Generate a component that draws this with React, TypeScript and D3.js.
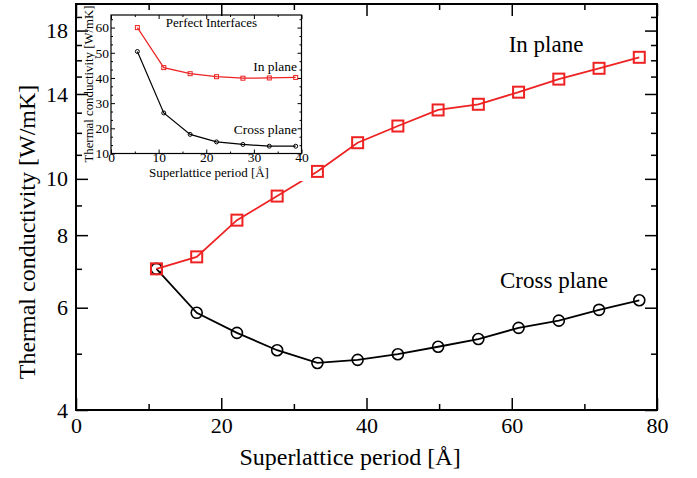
import { useEffect, useRef } from "react";
import * as d3 from "d3";

// superlattice periods (2..14 unit cells of 5.54 Å)
const periods = [11.08, 16.62, 22.16, 27.7, 33.24, 38.78, 44.32, 49.86, 55.4, 60.94, 66.48, 72.02, 77.56];
const inPlane = [7.0, 7.34, 8.49, 9.34, 10.3, 11.54, 12.33, 13.14, 13.44, 14.1, 14.85, 15.5, 16.19];
const crossPlane = [7.0, 5.88, 5.43, 5.07, 4.82, 4.88, 4.99, 5.14, 5.3, 5.54, 5.7, 5.95, 6.18];

// inset: perfect interfaces
const insetPeriods = [5.54, 11.08, 16.62, 22.16, 27.7, 33.24, 38.78];
const insetInPlane = [60, 44.1, 41.7, 40.5, 39.9, 40.0, 40.2];
const insetCrossPlane = [50.5, 26.1, 17.6, 14.6, 13.6, 12.9, 12.9];

const xMajor = [0, 20, 40, 60, 80];
const xMinor = [10, 30, 50, 70];
const yMajor = [4, 6, 8, 10, 14, 18];
const yMinor = [5, 7, 9, 11, 12, 13, 15, 16, 17, 19];

const insetXMajor = [0, 10, 20, 30, 40];
const insetXMinor = [5, 15, 25, 35];
const insetYMajor = [10, 20, 30, 40, 50, 60];
const insetYMinor = [13.33, 16.67, 23.33, 26.67, 33.33, 36.67, 43.33, 46.67, 53.33, 56.67, 63.33];

const RED = "#ee2222";
const FONT = "'Liberation Serif', 'Times New Roman', serif";

const App = () => {
    const ref = useRef<SVGSVGElement>(null);

    useEffect(() => {
        const svg = d3.select(ref.current);
        svg.selectAll("*").remove();

        const x = d3.scaleLinear().domain([0, 80]).range([76, 657]);
        const y = d3.scaleLog().domain([4, 20]).range([410, 4]);

        // ticks on all four sides, pointing inwards
        const addAxis = (axis: any, tx: number, ty: number, fontSize: number, sw: number) => {
            const g = svg.append("g")
                .attr("transform", `translate(${tx},${ty})`)
                .call(axis);
            g.select(".domain").remove();
            g.selectAll("line").attr("stroke", "#000").attr("stroke-width", sw);
            g.selectAll("text").attr("font-family", FONT).attr("font-size", fontSize).attr("fill", "#000");
            return g;
        };

        addAxis(d3.axisBottom(x).tickValues(xMajor).tickSize(-12).tickPadding(7).tickFormat(d3.format("d")), 0, 410, 22, 1.5);
        addAxis(d3.axisBottom(x).tickValues(xMinor).tickSize(-6).tickFormat(() => ""), 0, 410, 22, 1.5);
        addAxis(d3.axisTop(x).tickValues(xMajor).tickSize(-12).tickFormat(() => ""), 0, 4, 22, 1.5);
        addAxis(d3.axisTop(x).tickValues(xMinor).tickSize(-6).tickFormat(() => ""), 0, 4, 22, 1.5);
        addAxis(d3.axisLeft(y).tickValues(yMajor).tickSize(-12).tickPadding(8).tickFormat(d3.format("d")), 76, 0, 22, 1.5);
        addAxis(d3.axisLeft(y).tickValues(yMinor).tickSize(-6).tickFormat(() => ""), 76, 0, 22, 1.5);
        addAxis(d3.axisRight(y).tickValues(yMajor).tickSize(-12).tickFormat(() => ""), 657, 0, 22, 1.5);
        addAxis(d3.axisRight(y).tickValues(yMinor).tickSize(-6).tickFormat(() => ""), 657, 0, 22, 1.5);

        svg.append("rect")
            .attr("x", 76).attr("y", 4).attr("width", 581).attr("height", 406)
            .attr("fill", "none").attr("stroke", "#000").attr("stroke-width", 2);

        const line = d3.line<number>()
            .x((d, i) => x(periods[i]))
            .y(d => y(d));

        svg.append("path").datum(crossPlane).attr("d", line)
            .attr("fill", "none").attr("stroke", "#000").attr("stroke-width", 1.8);
        svg.append("path").datum(inPlane).attr("d", line)
            .attr("fill", "none").attr("stroke", RED).attr("stroke-width", 1.8);

        svg.append("g").selectAll("circle").data(crossPlane).join("circle")
            .attr("cx", (d, i) => x(periods[i])).attr("cy", d => y(d)).attr("r", 5.5)
            .attr("fill", "none").attr("stroke", "#000").attr("stroke-width", 1.6);
        svg.append("g").selectAll("rect").data(inPlane).join("rect")
            .attr("x", (d, i) => x(periods[i]) - 5.5).attr("y", d => y(d) - 5.5)
            .attr("width", 11).attr("height", 11)
            .attr("fill", "none").attr("stroke", RED).attr("stroke-width", 2);

        svg.append("text").attr("x", 546).attr("y", 52).attr("text-anchor", "middle")
            .attr("font-family", FONT).attr("font-size", 23).text("In plane");
        svg.append("text").attr("x", 554).attr("y", 288).attr("text-anchor", "middle")
            .attr("font-family", FONT).attr("font-size", 23).text("Cross plane");

        svg.append("text").attr("x", 350).attr("y", 465).attr("text-anchor", "middle")
            .attr("font-family", FONT).attr("font-size", 24).text("Superlattice period [Å]");
        svg.append("text").attr("transform", "translate(35,232) rotate(-90)").attr("text-anchor", "middle")
            .attr("font-family", FONT).attr("font-size", 24).text("Thermal conductivity [W/mK]");

        // inset
        svg.append("rect").attr("x", 90).attr("y", 17).attr("width", 221).attr("height", 164).attr("fill", "#fff");

        const xi = d3.scaleLinear().domain([0, 40]).range([111, 301.5]);
        const yi = d3.scaleLinear().domain([10, 65]).range([153.5, 15]);

        addAxis(d3.axisBottom(xi).tickValues(insetXMajor).tickSize(-4).tickPadding(-1.5).tickFormat(d3.format("d")), 0, 153.5, 13.5, 1);
        addAxis(d3.axisBottom(xi).tickValues(insetXMinor).tickSize(-2).tickFormat(() => ""), 0, 153.5, 13, 1);
        addAxis(d3.axisTop(xi).tickValues(insetXMajor).tickSize(-4).tickFormat(() => ""), 0, 15, 13, 1);
        addAxis(d3.axisTop(xi).tickValues(insetXMinor).tickSize(-2).tickFormat(() => ""), 0, 15, 13, 1);
        addAxis(d3.axisLeft(yi).tickValues(insetYMajor).tickSize(-4).tickPadding(2).tickFormat(d3.format("d")), 111, 0, 13.5, 1);
        addAxis(d3.axisLeft(yi).tickValues(insetYMinor).tickSize(-2).tickFormat(() => ""), 111, 0, 13, 1);
        addAxis(d3.axisRight(yi).tickValues(insetYMajor).tickSize(-4).tickFormat(() => ""), 301.5, 0, 13, 1);
        addAxis(d3.axisRight(yi).tickValues(insetYMinor).tickSize(-2).tickFormat(() => ""), 301.5, 0, 13, 1);

        svg.append("rect")
            .attr("x", 111).attr("y", 15).attr("width", 190.5).attr("height", 138.5)
            .attr("fill", "none").attr("stroke", "#000").attr("stroke-width", 1.2);

        const lineI = d3.line<number>()
            .x((d, i) => xi(insetPeriods[i]))
            .y(d => yi(d));

        svg.append("path").datum(insetCrossPlane).attr("d", lineI)
            .attr("fill", "none").attr("stroke", "#000").attr("stroke-width", 1.2);
        svg.append("path").datum(insetInPlane).attr("d", lineI)
            .attr("fill", "none").attr("stroke", RED).attr("stroke-width", 1.2);

        svg.append("g").selectAll("circle").data(insetCrossPlane).join("circle")
            .attr("cx", (d, i) => xi(insetPeriods[i])).attr("cy", d => yi(d)).attr("r", 2)
            .attr("fill", "none").attr("stroke", "#000").attr("stroke-width", 1);
        svg.append("g").selectAll("rect").data(insetInPlane).join("rect")
            .attr("x", (d, i) => xi(insetPeriods[i]) - 2).attr("y", d => yi(d) - 2)
            .attr("width", 4).attr("height", 4)
            .attr("fill", "none").attr("stroke", RED).attr("stroke-width", 1);

        svg.append("text").attr("x", 211.5).attr("y", 27).attr("text-anchor", "middle")
            .attr("font-family", FONT).attr("font-size", 13).text("Perfect Interfaces");
        svg.append("text").attr("x", 297).attr("y", 70.5).attr("text-anchor", "end")
            .attr("font-family", FONT).attr("font-size", 13.5).text("In plane");
        svg.append("text").attr("x", 297).attr("y", 134).attr("text-anchor", "end")
            .attr("font-family", FONT).attr("font-size", 13.5).text("Cross plane");
        svg.append("text").attr("x", 209).attr("y", 177).attr("text-anchor", "middle")
            .attr("font-family", FONT).attr("font-size", 13).text("Superlattice period [Å]");
        svg.append("text").attr("transform", "translate(92.5,84) rotate(-90)").attr("text-anchor", "middle")
            .attr("font-family", FONT).attr("font-size", 12.8).text("Thermal conductivity [W/mK]");
    }, []);

    return (
        <svg ref={ref} width={697} height={478}
             style={{position: "absolute", left: 0, top: 0, background: "#fff"}} />
    );
};

export default App;
